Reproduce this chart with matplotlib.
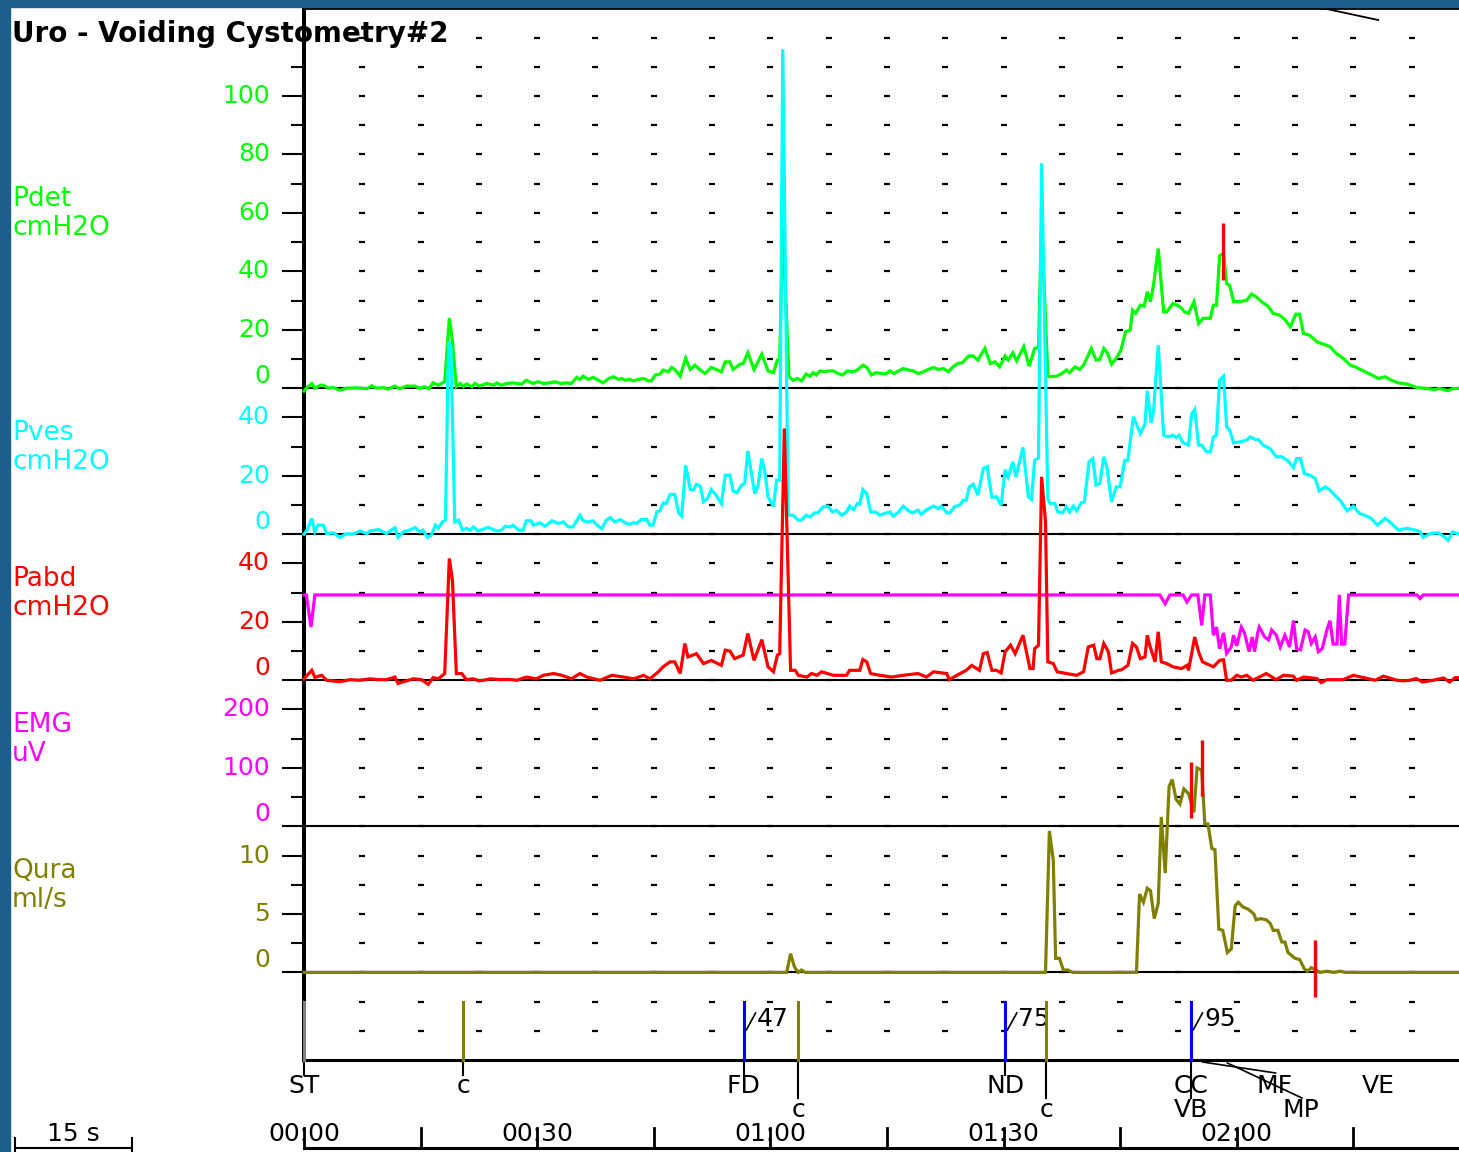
import matplotlib
matplotlib.use("Agg")
import matplotlib.pyplot as plt
from matplotlib.patches import Rectangle
from matplotlib.transforms import blended_transform_factory

W, H, DPI = 1459, 1152, 100

# --- Messkurven: (Zeit in s, Wert in Kanaleinheit) ---
pdet = [(0, -1), (0.4, 0.2), (1.0, 1.6), (1.4, 0), (2.1, 1), (2.5, 1), (3.1, 0), (3.8, 0.2),
        (4.6, -0.7), (5.5, 0), (6.8, 0.1), (8.1, -0.2), (8.7, 0.8), (9.3, 0), (10.2, 0.2),
        (10.8, -0.3), (11.7, 0.7), (12.3, -0.2), (13.2, 0.7), (14.3, 0.7), (14.9, -0.1),
        (15.5, 0.5), (16.1, -0.2), (16.6, 1.8), (17.3, 1), (18.1, 2.2), (18.7, 24), (19.1, 16),
        (19.6, 0.5), (20.1, 1.6), (20.5, 0.5), (20.9, 1.4), (21.6, 0.5), (22.0, 1.6), (22.6, 0.7),
        (23.5, 1.6), (24.4, 1), (24.8, 1.8), (25.4, 1), (26.1, 1.6), (26.9, 1.8), (28.0, 1.4),
        (28.6, 2.7), (29.5, 1.6), (30.1, 2.2), (30.8, 1.6), (31.6, 1.8), (32.3, 2.2), (33.0, 1.6),
        (33.8, 1.8), (34.4, 1.6), (35.1, 3.7), (35.5, 3), (35.9, 4.1), (36.6, 3), (37.2, 3.7),
        (37.9, 2.7), (38.5, 1.8), (39.2, 3.3), (39.8, 3.9), (40.5, 3), (40.9, 3.3), (41.3, 2.7),
        (41.9, 3), (42.4, 2.5), (43.0, 3), (43.7, 3.3), (44.3, 2.5), (44.7, 2.5), (45.2, 4.5),
        (45.8, 4.8), (46.2, 6.2), (46.9, 5.6), (47.3, 7.1), (47.7, 6.4), (48.4, 4.1), (49.1, 10.2),
        (49.7, 6.4), (50.3, 7.9), (50.9, 6.4), (51.6, 5), (52.4, 7.1), (53.0, 6.4), (53.7, 5.6),
        (54.2, 9), (54.8, 9), (55.2, 6.4), (56.1, 8.2), (56.5, 8.4), (57.1, 12.1), (57.9, 6.4),
        (58.9, 11.6), (59.7, 5.9), (60.4, 5.3), (60.9, 9.6), (61.2, 9.8), (61.6, 55), (62.4, 3.9),
        (62.9, 2.7), (63.5, 3.3), (64.0, 2.5), (64.6, 4.8), (65.1, 4.1), (65.5, 5.3), (65.9, 4.5),
        (66.4, 5.9), (67.0, 5.6), (67.5, 5.9), (68.1, 5.9), (68.7, 5), (69.3, 4.5), (69.9, 5.9),
        (70.6, 5.6), (71.2, 6.2), (71.9, 7.9), (72.4, 7.1), (73.0, 4.5), (73.6, 5.3), (74.3, 5),
        (74.9, 5), (75.4, 5.9), (75.9, 5), (76.5, 5.9), (77.1, 6.7), (77.8, 6.2), (78.4, 5.9),
        (79.0, 5), (79.7, 5.6), (80.3, 6.4), (81.0, 7.1), (81.6, 6.4), (82.3, 6.7), (82.9, 5.6),
        (83.5, 7.3), (84.1, 8.4), (84.7, 8.7), (85.5, 11), (86.1, 11), (86.7, 9.6), (87.6, 13.6),
        (88.3, 8.4), (88.9, 9), (89.5, 7.3), (90.2, 11), (90.6, 9.6), (91.2, 12.1), (91.7, 9.4),
        (92.6, 14.2), (93.3, 7.5), (94.0, 13.6), (94.5, 14), (94.9, 57), (95.7, 4.2), (96.0, 3.9),
        (96.8, 4.1), (97.4, 4.8), (98.1, 6.2), (98.5, 5.3), (99.2, 7.3), (99.8, 6.4), (100.3, 7.9),
        (100.8, 10.7), (101.3, 13.6), (101.9, 9.6), (102.4, 9.8), (102.9, 13.6), (103.4, 11.9),
        (103.9, 8.2), (104.5, 10.2), (105.1, 13), (105.7, 19.3), (106.3, 19.9), (106.6, 26.7),
        (107.0, 25.6), (107.6, 28.4), (108.1, 28.1), (108.5, 33), (108.9, 29.6), (109.3, 35.3),
        (109.9, 47.8), (110.6, 26.1), (111.0, 26.1), (111.8, 29), (112.7, 27.9), (113.3, 26.1),
        (113.8, 25.6), (114.5, 29.6), (115.1, 22.1), (115.7, 23.9), (116.6, 23.9), (117.0, 28.4),
        (117.4, 28.4), (117.8, 45.2), (118.3, 46.3), (118.7, 35.8), (119.1, 35.2), (119.6, 29.6),
        (120.4, 29.6), (121.3, 30.1), (121.9, 32.2), (122.5, 31.3), (123.2, 29.6), (124.0, 28.1),
        (124.7, 25.6), (125.5, 25), (126.2, 23.5), (126.9, 21), (127.6, 25.3), (128.1, 25.3),
        (128.6, 18.7), (129.4, 18.1), (130.3, 15.9), (131.1, 15.1), (132.0, 14.2), (132.8, 11.9),
        (133.7, 10.2), (134.6, 7.9), (135.4, 7.1), (136.5, 5.6), (137.4, 4.5), (138.2, 3.3),
        (139.1, 3.9), (139.9, 2.7), (140.8, 1.8), (141.9, 1.4), (143.2, 0.2), (144.4, -0.1),
        (145.5, -0.5), (146.1, -0.1), (147.2, -0.9), (147.8, -0.1), (148.6, -0.1)]

pves = [(0, 0), (0.4, 1.4), (1.0, 5.4), (1.4, 0.8), (1.8, 3.1), (2.5, 3.1), (2.9, 0.2), (3.8, 0.5),
        (4.6, -1.1), (5.5, 0.2), (6.3, 0), (7.2, 1.1), (8.1, 0.2), (8.5, 1.1), (9.6, 1.6),
        (10.6, 0.2), (11.7, 2.2), (12.1, -1.1), (12.8, 0.8), (13.6, 1.4), (14.3, 2.3), (14.9, 0.8),
        (15.3, 1.4), (15.9, -1.1), (16.4, -0.3), (16.9, 3.1), (17.3, 2), (17.8, 4.2), (18.2, 4.8),
        (18.6, 66), (18.9, 64), (19.4, 4.2), (19.9, 4.8), (20.4, 1.4), (20.9, 2), (21.4, 1.4),
        (21.8, 2.5), (22.4, 1.1), (23.7, 2.3), (24.8, 1.1), (25.4, 1.4), (25.9, 2.7), (26.5, 2.5),
        (26.9, 3.1), (27.6, 1.4), (28.2, 1.4), (28.6, 4.6), (29.2, 4.6), (29.5, 3.1), (30.4, 3.9),
        (31.0, 2.7), (31.9, 4.6), (32.7, 3.7), (33.4, 4.2), (34.0, 2.5), (34.6, 2.5), (35.5, 6.5),
        (35.9, 4.6), (36.6, 4.2), (37.2, 4.6), (37.6, 3.4), (38.3, 1.9), (38.9, 4.8), (39.4, 5.7),
        (40.0, 4.2), (40.7, 5), (41.3, 3.9), (41.9, 3.4), (42.4, 3.9), (42.8, 3.7), (43.4, 5),
        (44.1, 5), (44.5, 3.1), (44.9, 3.1), (45.4, 7.6), (45.8, 8), (46.2, 10.7), (46.6, 10.5),
        (47.1, 13.6), (47.7, 13.6), (48.2, 7.3), (48.6, 6.2), (49.1, 23.6), (49.7, 15.3),
        (50.1, 15.1), (50.5, 17.1), (51.0, 16.4), (51.4, 11.1), (51.9, 12.2), (52.4, 15.3),
        (53.0, 13.4), (53.7, 10.5), (54.2, 20.2), (54.8, 20.2), (55.2, 14.8), (55.7, 14.2),
        (56.3, 16.8), (56.7, 17.4), (57.1, 28.5), (58.0, 13.9), (58.4, 16.4), (58.9, 25.9),
        (59.3, 21.3), (59.7, 12.8), (60.4, 9.4), (60.8, 18.5), (61.2, 18.5), (61.6, 166),
        (62.3, 6.5), (62.9, 6.5), (63.6, 4.8), (64.0, 4.8), (64.6, 6.5), (65.1, 5.9), (65.7, 7.3),
        (66.1, 7.3), (66.8, 9.4), (67.4, 9.6), (68.0, 7.6), (68.5, 8.2), (69.2, 6.5), (69.8, 7.6),
        (70.2, 9.6), (70.7, 8.4), (71.2, 10.5), (71.5, 10.3), (71.9, 15.3), (72.4, 13.9),
        (72.9, 7.6), (73.5, 7.6), (74.1, 6.5), (74.7, 7.1), (75.4, 7.6), (75.8, 6.2), (76.5, 7.6),
        (77.1, 9.6), (77.7, 8.2), (78.2, 7.3), (79.0, 8.2), (79.4, 6.8), (80.1, 8.4), (81.0, 9.6),
        (81.6, 8.8), (82.0, 9.6), (82.7, 7.3), (83.1, 7.3), (83.7, 9.4), (84.4, 10), (84.8, 11.6),
        (85.2, 11.6), (85.6, 16.2), (86.1, 17.1), (86.7, 13.4), (87.4, 22.5), (87.9, 23.1),
        (88.5, 12.6), (89.1, 12.8), (89.7, 9.9), (90.2, 22.1), (90.6, 19.6), (91.2, 24.8),
        (91.6, 19.6), (92.5, 29.7), (93.2, 12.8), (93.6, 11.9), (94.0, 25.3), (94.5, 26.1),
        (94.9, 127), (95.7, 12), (96.0, 10.5), (96.6, 10.5), (97.0, 7.6), (97.6, 7.3), (98.1, 9.4),
        (98.5, 7.6), (99.0, 9.6), (99.4, 8), (100.0, 10.7), (100.4, 11.1), (101.0, 24.8),
        (101.5, 25.9), (101.9, 16.8), (102.4, 17.4), (102.9, 26.5), (103.3, 23.1), (103.9, 11.1),
        (104.5, 16.2), (105.0, 16.2), (105.6, 25.3), (106.0, 25.3), (106.7, 40.2), (107.6, 34.5),
        (108.2, 37.7), (108.5, 49.1), (109.0, 38.1), (109.3, 41.9), (109.9, 64.7), (110.6, 33.9),
        (111.2, 33.3), (111.8, 33.9), (112.2, 33.1), (112.6, 33.9), (113.1, 31.3), (113.8, 30.5),
        (114.2, 41.1), (114.6, 42.7), (115.1, 30.5), (115.5, 30.5), (116.1, 28.2), (116.6, 28.2),
        (117.0, 33.3), (117.4, 33.9), (117.8, 52.7), (118.3, 54.1), (118.7, 36.8), (119.1, 35.6),
        (119.6, 31.3), (120.4, 31.6), (121.3, 32.2), (121.7, 33.3), (122.4, 32.4), (122.8, 32.4),
        (123.4, 30.5), (124.3, 29.3), (125.1, 26.5), (125.8, 26.5), (126.6, 25.1), (127.3, 22.8),
        (127.7, 25.9), (128.2, 25.9), (128.7, 20.8), (129.4, 20.2), (130.1, 19.1), (130.6, 14.8),
        (131.4, 16.2), (132.0, 15.1), (132.6, 13.4), (133.3, 11.6), (134.2, 8), (135.0, 9.6),
        (135.8, 7.1), (136.7, 6.2), (137.3, 5.4), (138.1, 3.1), (139.1, 5.4), (139.7, 4.2),
        (140.8, 1.4), (141.9, 2), (143.0, 1.4), (143.6, 0.8), (144.0, -1.1), (144.9, 0.2),
        (145.9, 0.5), (146.6, -0.7), (147.2, -2.1), (147.8, 0.8), (148.6, 0)]

pabd = [(0, 0.5), (1.0, 3.4), (1.4, 1), (2.3, 1.7), (2.9, 0), (4.6, -0.5), (5.9, 0.2), (7.2, 0),
        (8.5, 0.5), (9.5, 0.2), (10.6, 0.2), (11.7, 1.1), (12.1, -1.1), (12.8, -0.5), (14.1, 0.5),
        (15.1, 0.2), (16.0, -1.4), (16.6, 0.9), (17.3, 0.5), (18.1, 2.3), (18.7, 41.7), (19.1, 34.2),
        (19.6, 2.3), (20.3, 2.3), (20.9, 0.2), (21.8, 0.5), (22.5, -0.2), (23.1, 0), (24.0, 0.5),
        (25.2, 0.2), (26.3, 0.3), (27.4, 0), (28.6, 1.1), (29.9, 0.5), (30.8, 1.7), (32.1, 2.3),
        (33.0, 1.8), (33.8, 1.1), (34.4, 0.5), (35.5, 2.3), (36.4, 1.1), (38.1, 0), (39.6, 1.7),
        (41.1, 1.1), (42.4, 0.5), (43.7, 1.7), (44.5, 0.5), (45.6, 2.9), (46.2, 4.6), (47.1, 6.3),
        (47.7, 6.3), (48.4, 2.3), (49.0, 12.6), (49.4, 8), (50.5, 9.1), (51.4, 5.7), (52.4, 6.8),
        (53.7, 5.1), (54.2, 10.3), (54.8, 10), (55.4, 7.4), (56.5, 8.6), (57.1, 16), (57.9, 6.8),
        (58.9, 13.9), (59.7, 4.6), (60.4, 2.9), (60.9, 8.6), (61.2, 9.1), (61.8, 86.2), (62.6, 3.4),
        (63.2, 3.4), (63.6, 1.7), (64.7, 1.1), (65.3, 2.3), (66.0, 1.7), (66.6, 2.9), (68.1, 1.7),
        (69.8, 1.7), (70.2, 3.4), (71.5, 3.4), (71.9, 7.1), (72.4, 6.3), (72.9, 2.3), (74.1, 1.7),
        (75.6, 1.1), (77.1, 1.7), (79.0, 2.3), (80.1, 1.1), (81.0, 2.9), (82.7, 2.3), (83.0, 0.2),
        (84.0, 1.7), (85.2, 3.4), (85.9, 5.1), (86.9, 3.4), (87.4, 9.1), (87.9, 9.5), (88.5, 3.4),
        (89.1, 3.4), (89.7, 2.5), (90.2, 9.7), (90.9, 12), (91.5, 9.1), (92.5, 15.4), (93.4, 4),
        (93.8, 4), (94.0, 10.8), (94.5, 12), (94.9, 69.6), (95.4, 54.2), (95.7, 6.3), (96.4, 5.7),
        (96.9, 2.9), (98.1, 2.3), (99.4, 1.7), (100.3, 2.9), (100.9, 11.4), (101.6, 12),
        (102.0, 7.4), (102.4, 7.4), (102.9, 12.6), (103.5, 9.7), (103.9, 2.5), (104.8, 3.4),
        (105.2, 3.6), (106.0, 5.1), (106.6, 12.6), (107.1, 11.4), (107.6, 7.4), (108.2, 8),
        (108.5, 15.4), (108.8, 12), (109.5, 6.3), (109.9, 16.6), (110.3, 6.3), (111.0, 5.7),
        (111.8, 4.6), (112.9, 4), (113.6, 5.1), (113.8, 3.4), (114.6, 14.8), (115.1, 9.7),
        (115.6, 6.3), (116.1, 5.7), (117.0, 4.6), (117.8, 6.8), (118.3, 7), (118.7, 0), (119.3, 0),
        (120.0, 1.7), (120.6, 1.1), (121.3, 1.7), (122.1, 0), (123.8, 2.3), (125.1, 0.2),
        (126.0, 1.7), (127.3, 1.4), (127.7, 0), (128.6, 1.1), (130.3, 0.6), (130.9, -0.8),
        (131.6, 0.2), (133.7, 0.2), (135.0, 1.7), (136.3, 0.9), (137.8, 0), (138.9, 1.4),
        (140.6, 0), (141.4, -0.2), (142.3, 0), (143.1, 0.6), (143.9, -0.6), (145.3, 0),
        (146.6, 0.8), (147.4, -0.6), (148.1, 0.9), (148.6, 0.9)]

emg = [(0, 396), (0.3, 396), (0.9, 341), (1.4, 396), (110.1, 396), (110.8, 381), (111.4, 396),
       (113.1, 396), (113.6, 384), (114.2, 396), (115.0, 396), (115.5, 344), (115.9, 396),
       (116.6, 396), (117.0, 327), (117.4, 341), (117.8, 304), (118.3, 331), (118.7, 296),
       (119.3, 307), (119.6, 327), (120.0, 309), (120.6, 341), (121.0, 331), (121.6, 299),
       (122.0, 324), (122.3, 299), (122.7, 331), (122.9, 341), (123.6, 324), (124.1, 319),
       (124.5, 336), (125.1, 327), (125.6, 307), (126.2, 327), (126.8, 307), (127.3, 352),
       (127.7, 304), (128.2, 302), (128.8, 336), (129.2, 333), (129.6, 313), (130.1, 324),
       (130.5, 299), (131.0, 304), (131.6, 336), (132.0, 352), (132.4, 312), (132.9, 312),
       (133.2, 396), (133.5, 312), (133.9, 312), (134.4, 396), (143.2, 396), (143.6, 390),
       (144.0, 396), (148.6, 396)]

qura = [(0, 0), (62.1, 0), (62.6, 1.6), (63.1, 0.46), (63.6, 0), (64.0, 0.2), (64.5, 0), (95.4, 0),
        (95.9, 12.1), (96.4, 9.6), (96.7, 1.2), (97.2, 1.2), (97.7, 0.2), (98.3, 0.2), (98.9, 0),
        (107.1, 0), (107.5, 6.7), (108.0, 6), (108.5, 7.2), (108.9, 7), (109.4, 4.6), (109.9, 5.9),
        (110.3, 13.3), (110.8, 8.5), (111.3, 15.9), (111.7, 16.5), (112.2, 14.8), (112.7, 14.4),
        (113.2, 15.7), (113.8, 15.3), (114.5, 13.7), (114.9, 17.5), (115.5, 17.3), (115.9, 12.7),
        (116.3, 12.7), (116.8, 10.6), (117.2, 10.5), (117.7, 3.7), (118.2, 3.6), (118.8, 1.7),
        (119.3, 2), (119.8, 5.7), (120.2, 6), (120.8, 5.6), (121.5, 5.4), (122.2, 5), (122.5, 4.5),
        (123.1, 4.6), (123.8, 4.5), (124.3, 4.2), (124.7, 3.6), (125.3, 3.6), (125.8, 2.6),
        (126.2, 2.6), (126.6, 1.7), (127.5, 1.2), (128.1, 1.1), (128.7, 0.3), (129.1, 0.1),
        (129.6, 0.4), (130.2, 0.2), (130.7, 0), (131.6, 0.1), (132.5, 0), (133.3, 0.1), (134.0, 0),
        (148.6, 0)]

# rote Markierungen (Zeit, von, bis)
pdet_marks = [(118.2, 37, 56.5)]
qura_marks = [(114.1, 13.2, 18.0), (115.5, 15.1, 19.9), (130.1, -2.1, 2.8)]

# Ereignisse: Zeit, Text, Farbe, langer Strich
events = [(0.0, "ST", "#808080", False), (20.5, "c", "#808000", False),
          (56.6, "FD", "#0000ff", False), (63.6, "c", "#808000", True),
          (90.2, "ND", "#0000ff", False), (95.5, "c", "#808000", True),
          (114.1, "CC", "#0000ff", True)]
volumes = [(56.6, "47"), (90.2, "75"), (114.1, "95")]
time_labels = ["00:00", "00:30", "01:00", "01:30", "02:00"]

# Kanaele: name, einheit, farbe, daten, nullzeile, einheit/zeile, hauptticks, nebenticks
channels = [
    ("Pdet", "cmH2O", "#00ff00", pdet, 13, 10, [0, 20, 40, 60, 80, 100], [10, 30, 50, 70, 90, 110]),
    ("Pves", "cmH2O", "#00ffff", pves, 18, 10, [0, 20, 40], [10, 30]),
    ("EMG", "uV", "#ff00ff", emg, 28, 50, [0, 100, 200], [50, 150]),
    ("Pabd", "cmH2O", "#ff0000", pabd, 23, 10, [0, 20, 40], [10, 30]),
    ("Qura", "ml/s", "#808000", qura, 33, 2.5, [0, 5, 10], [2.5, 7.5]),
]

NROWS = 36
TOP_PX, BOT_PX, LEFT_PX = 8.4, 1060, 304
ROW_PX = (BOT_PX - TOP_PX) / NROWS
T_MAX = 148.6
FS_LAB, FS_TICK, FS_EV = 19, 18, 18


def fy(ypix):
    return 1 - ypix / H


fig = plt.figure(figsize=(W / DPI, H / DPI), dpi=DPI)
fig.patch.set_facecolor("white")
rect = [LEFT_PX / W, fy(BOT_PX), (W - LEFT_PX) / W, (BOT_PX - TOP_PX) / H]

# blauer Rahmen
fig.patches.append(Rectangle((0, fy(7)), 1, 7 / H, transform=fig.transFigure,
                             color="#1c5f8c", zorder=0))
fig.patches.append(Rectangle((0, 0), 10 / W, 1, transform=fig.transFigure,
                             color="#1c5f8c", zorder=0))

axes = {}
for name, unit, col, data, zrow, per_row, majors, minors in channels:
    ax = fig.add_axes(rect, sharex=axes["Pdet"] if axes else None)
    ax.patch.set_visible(False)
    ax.set_xlim(0, T_MAX)
    ax.set_ylim(-(NROWS - zrow) * per_row, zrow * per_row)
    for s in ax.spines.values():
        s.set_visible(False)
    ax.tick_params(axis="x", which="both", bottom=False, labelbottom=False)
    ax.set_yticks(majors)
    ax.set_yticks(minors, minor=True)
    ax.tick_params(axis="y", which="major", length=15.8, width=1.5, color="black",
                   direction="out", labelleft=False)
    ax.tick_params(axis="y", which="minor", length=9.4, width=1.5, color="black",
                   direction="out")
    ax.axhline(0, color="black", lw=1.5, zorder=1)

    t, v = zip(*data)
    ax.plot(t, v, color=col, lw=2.3, zorder=3, clip_on=False, solid_joinstyle="miter")

    tr = blended_transform_factory(ax.transAxes, ax.transData)
    for m in majors:
        ax.text(-34 / (W - LEFT_PX), m, str(m), transform=tr, ha="right",
                va="bottom" if m == 0 else "center", color=col, fontsize=FS_TICK)

    zero_px = TOP_PX + zrow * ROW_PX
    off = 189 if name == "Pdet" else 101
    fig.text(12 / W, fy(zero_px - off), name, color=col, fontsize=FS_LAB, va="center")
    fig.text(12 / W, fy(zero_px - off + 29), unit, color=col, fontsize=FS_LAB, va="center")
    axes[name] = ax

ax = axes["Pdet"]
ax.spines["left"].set_visible(True)
ax.spines["left"].set_linewidth(2.9)
ax.spines["top"].set_visible(True)
ax.spines["top"].set_linewidth(2.0)
ax.spines["bottom"].set_visible(True)
ax.spines["bottom"].set_linewidth(2.2)

# Punktraster
gt = [7.5 * k for k in range(1, 20)]
gy = [130 - 10 * r for r in range(NROWS)]
for yv in gy:
    ax.plot(gt, [yv] * len(gt), ls="none", marker="_", ms=4, mew=1.6, color="black", zorder=0)

# rote Marker
for tm, a, b in pdet_marks:
    axes["Pdet"].vlines(tm, a, b, color="#ff0000", lw=2.4, zorder=6)
for tm, a, b in qura_marks:
    axes["Qura"].vlines(tm, a, b, color="#ff0000", lw=2.4, zorder=6, clip_on=False)

# Ereignisspalte
bt = blended_transform_factory(ax.transData, fig.transFigure)
for tm, lab, col, long_tick in events:
    ax.plot([tm, tm], [fy(1002), fy(1060)], color=col, lw=2.2, transform=bt, clip_on=False, zorder=5)
    ax.plot([tm, tm], [fy(1063), fy(1098 if long_tick else 1075)], color="black", lw=1.5,
            transform=bt, clip_on=False)
    row_y = 1110 if (long_tick and lab == "c") else 1086
    ax.text(tm, fy(row_y), lab, transform=bt, ha="center", va="center", fontsize=FS_EV)
ax.text(114.1, fy(1110), "VB", transform=bt, ha="center", va="center", fontsize=FS_EV)

for tm, lab in volumes:
    ax.plot([tm + 0.3, tm + 1.5], [fy(1030), fy(1013)], color="black", lw=1.2,
            transform=bt, clip_on=False)
    ax.text(tm + 1.7, fy(1019), lab, transform=bt, ha="left", va="center", fontsize=FS_EV)

# MF / MP / VE mit Fuehrungslinien
ax.plot([115.6, 125.0], [fy(1062), fy(1073)], color="black", lw=1.2, transform=bt, clip_on=False)
ax.plot([118.8, 128.4], [fy(1063), fy(1098)], color="black", lw=1.2, transform=bt, clip_on=False)
ax.text(124.9, fy(1086), "MF", transform=bt, ha="center", va="center", fontsize=FS_EV)
ax.text(128.3, fy(1110), "MP", transform=bt, ha="center", va="center", fontsize=FS_EV)
ax.text(138.2, fy(1086), "VE", transform=bt, ha="center", va="center", fontsize=FS_EV)

# schraege Linie oben rechts
ax.plot([131.0, 138.2], [fy(8), fy(20)], color="black", lw=1.3, transform=bt, clip_on=False)

# Zeitachse
ax.plot([0, T_MAX], [fy(1148), fy(1148)], color="black", lw=2.2, transform=bt, clip_on=False)
for k in range(10):
    ax.plot([15 * k, 15 * k], [fy(1128), fy(1148)], color="black", lw=2.0, transform=bt,
            clip_on=False)
for k, lab in enumerate(time_labels):
    ax.text(30 * k, fy(1134), lab, transform=bt, ha="center", va="center", fontsize=FS_EV, zorder=0)

# 15 s Massstab
px_per_s = (W - LEFT_PX) / T_MAX
x0, x1 = 15 / W, (15 + 15 * px_per_s) / W
fig.add_artist(plt.Line2D([x0, x1], [fy(1148), fy(1148)], color="black", lw=1.5))
for xx in (x0, x1):
    fig.add_artist(plt.Line2D([xx, xx], [fy(1138), fy(1152)], color="black", lw=1.5))
fig.text((x0 + x1) / 2, fy(1134), "15 s", ha="center", va="center", fontsize=FS_EV)

fig.text(12 / W, fy(34), "Uro - Voiding Cystometry#2", fontsize=20, fontweight="bold",
         va="center", zorder=10)

fig.savefig("out.png", dpi=DPI, facecolor="white")
